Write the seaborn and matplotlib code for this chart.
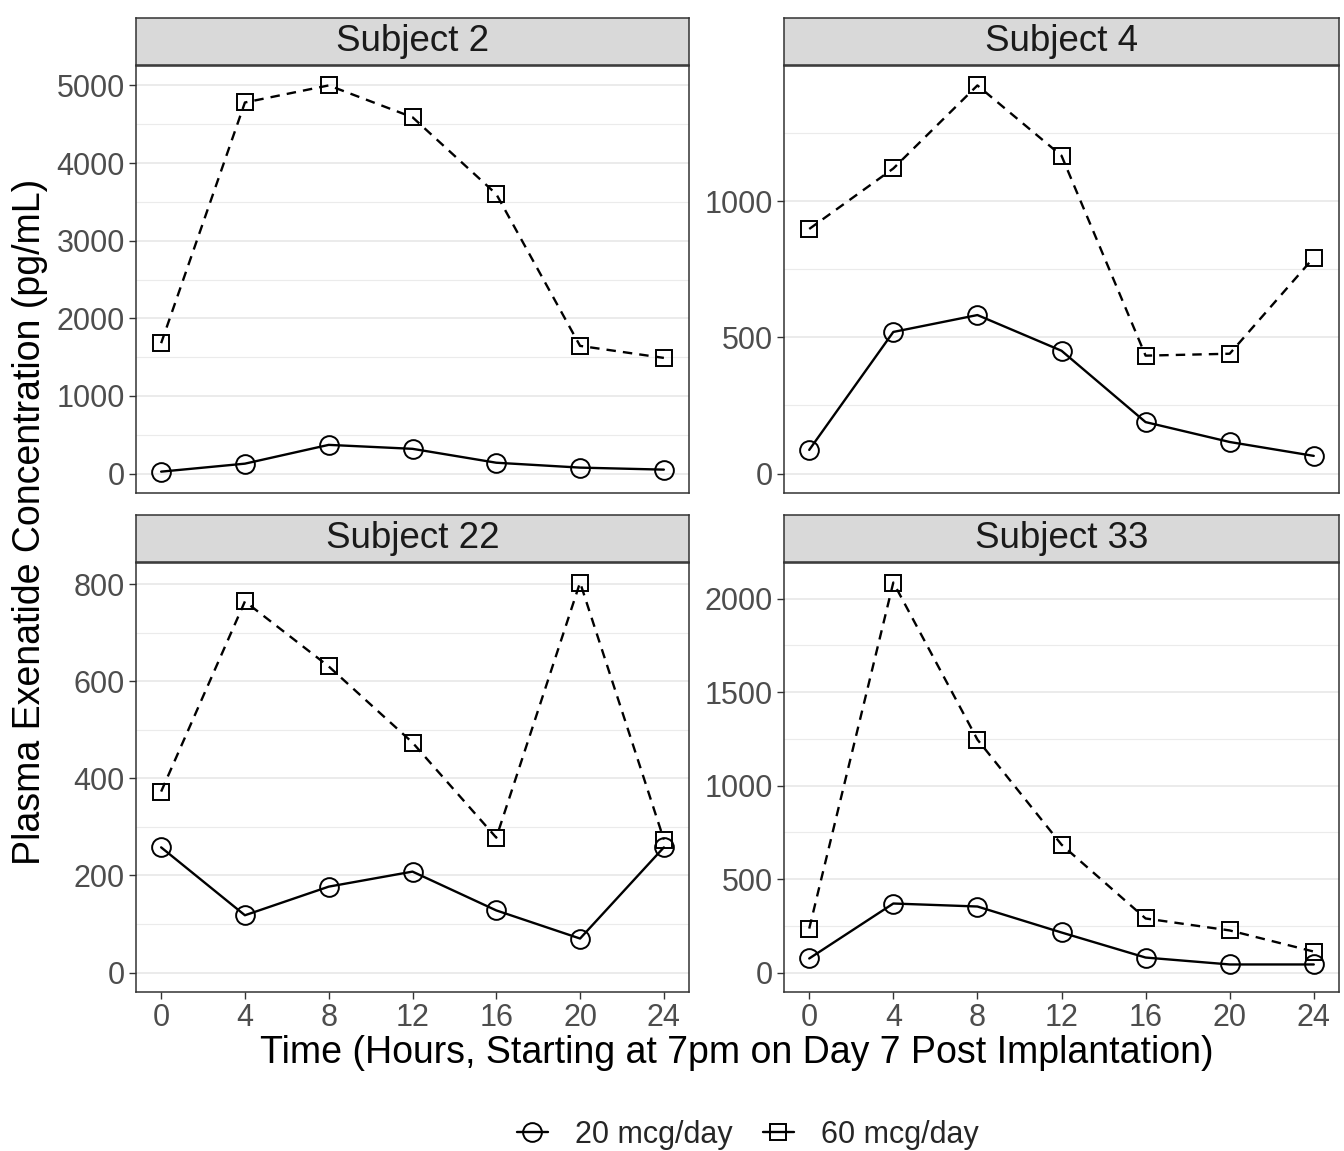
import matplotlib
matplotlib.use("Agg")
import matplotlib.pyplot as plt
from matplotlib.lines import Line2D
from matplotlib.ticker import MultipleLocator
import seaborn as sns
import pandas as pd

# ---------------- data ----------------
subjects = ["Subject 2", "Subject 4", "Subject 22", "Subject 33"]
times = [0, 4, 8, 12, 16, 20, 24]
dose_labels = ["20 mcg/day", "60 mcg/day"]

s2_20 = [25, 128, 370, 319, 140, 77, 51]
s2_60 = [1680, 4780, 5000, 4590, 3600, 1645, 1490]
s4_20 = [87, 520, 582, 451, 189, 116, 65]
s4_60 = [898, 1120, 1425, 1167, 433, 440, 793]
s22_20 = [258, 118, 177, 208, 128, 70, 258]
s22_60 = [373, 765, 631, 474, 278, 804, 274]
s33_20 = [75, 369, 353, 214, 80, 43, 43]
s33_60 = [235, 2086, 1246, 684, 289, 225, 112]

y_major_step = [1000, 500, 200, 500]
x_ticks = [0, 4, 8, 12, 16, 20, 24]

x_title = "Time (Hours, Starting at 7pm on Day 7 Post Implantation)"
y_title = "Plasma Exenatide Concentration (pg/mL)"

series = {
    "Subject 2": (s2_20, s2_60),
    "Subject 4": (s4_20, s4_60),
    "Subject 22": (s22_20, s22_60),
    "Subject 33": (s33_20, s33_60),
}
rows = []
for subj in subjects:
    for dose, vals in zip(dose_labels, series[subj]):
        for t, v in zip(times, vals):
            rows.append({"Subject": subj, "Dose": dose, "Time": t, "Conc": v})
df = pd.DataFrame(rows)

# ---------------- style ----------------
sns.set_theme(style="white")
plt.rcParams["font.family"] = ["Liberation Sans", "DejaVu Sans"]

W, H = 1344, 1151
fig = plt.figure(figsize=(W / 100, H / 100), dpi=100)

def fx(px):
    return px / W

def fy(px):
    return 1 - px / H

# axes rectangles in pixel coords (left, top, right, bottom)
rects = [
    (136, 66, 689, 493),
    (784, 66, 1339, 493),
    (136, 563, 689, 992),
    (784, 563, 1339, 992),
]
bottom_row = [False, False, True, True]
strip_h = 47

dark = "#333333"
grid_c = "#EBEBEB"
tick_c = "#4D4D4D"

style = {
    "20 mcg/day": dict(marker="o", markersize=13.5, linestyle="-"),
    "60 mcg/day": dict(marker="s", markersize=11, linestyle=(0, (4, 3))),
}

for subj, step, (l, t, r, b), show_x in zip(subjects, y_major_step, rects, bottom_row):
    ax = fig.add_axes([fx(l), fy(b), fx(r - l), (b - t) / H])
    sub = df[df["Subject"] == subj]
    for dose in dose_labels:
        d = sub[sub["Dose"] == dose]
        st = style[dose]
        sns.lineplot(data=d, x="Time", y="Conc", ax=ax, color="black",
                     errorbar=None, legend=False, linewidth=1.7,
                     linestyle=st["linestyle"], marker=st["marker"],
                     markersize=st["markersize"], markerfacecolor="none",
                     markeredgecolor="black", markeredgewidth=1.4, zorder=3)
    lo = min(0, sub["Conc"].min())
    hi = sub["Conc"].max()
    pad = 0.05 * (hi - lo)
    ax.set_ylim(lo - pad, hi + pad)
    ax.set_xlim(-1.2, 25.2)
    ax.set_xticks(x_ticks)
    ax.yaxis.set_major_locator(MultipleLocator(step))
    ax.yaxis.set_minor_locator(MultipleLocator(step / 2))
    ax.grid(False)
    ax.grid(axis="y", which="major", color=grid_c, linewidth=1.4, zorder=0)
    ax.grid(axis="y", which="minor", color=grid_c, linewidth=0.8, zorder=0)
    ax.set_axisbelow(True)
    ax.set_facecolor("white")
    for sp in ax.spines.values():
        sp.set_color(dark)
        sp.set_linewidth(1.1)
    ax.tick_params(axis="both", which="major", length=5, width=1.0, color=dark,
                   labelsize=22, labelcolor=tick_c, pad=3,
                   bottom=True, left=True)
    if not show_x:
        ax.tick_params(axis="x", bottom=False, labelbottom=False)
    ax.tick_params(axis="y", which="minor", length=0)
    ax.set_xlabel("")
    ax.set_ylabel("")

    # strip
    sax = fig.add_axes([fx(l), fy(t - 1), fx(r - l), strip_h / H])
    sax.set_facecolor("#D9D9D9")
    sax.set_xticks([])
    sax.set_yticks([])
    for sp in sax.spines.values():
        sp.set_color(dark)
        sp.set_linewidth(1.1)
    sax.text(0.5, 0.5, subj, ha="center", va="center", fontsize=26.5,
             color="#1A1A1A", transform=sax.transAxes)

fig.text(fx(737), fy(1053), x_title, ha="center", va="center",
         fontsize=27, color="black")
fig.text(fx(30), fy(522), y_title, ha="center", va="center",
         rotation=90, fontsize=27, color="black")

handles = [
    Line2D([], [], color="black", marker="o", markersize=13.5, linestyle="-",
           linewidth=1.7, markerfacecolor="none", markeredgewidth=1.4),
    Line2D([], [], color="black", marker="s", markersize=11, linestyle="-",
           linewidth=1.7, markerfacecolor="none", markeredgewidth=1.4),
]
fig.legend(handles, dose_labels, loc="center", bbox_to_anchor=(fx(748), fy(1135)),
           ncol=2, frameon=False, fontsize=22, handlelength=1.0,
           handletextpad=0.9, columnspacing=1.0)

fig.savefig("out.png", dpi=100)
